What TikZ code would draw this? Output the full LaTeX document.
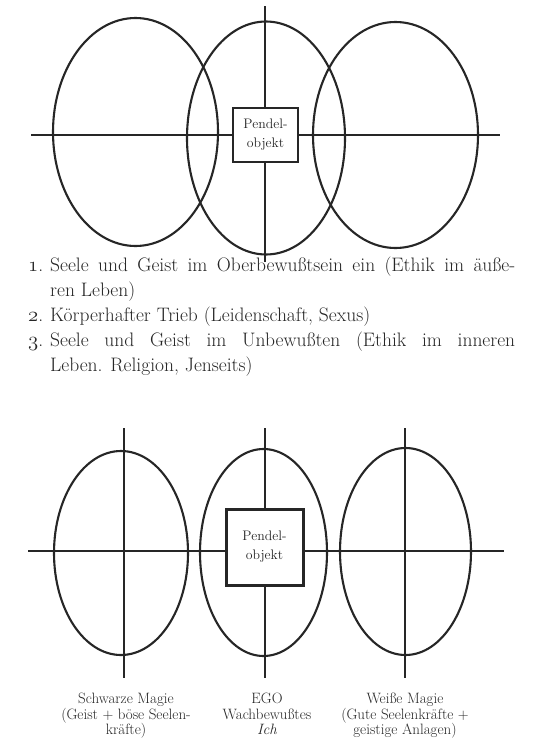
\documentclass[tikz,border=0pt]{standalone}
\usepackage{fontspec}
\usetikzlibrary{shapes.geometric}
\definecolor{ink}{RGB}{38,38,38}
\newcommand{\osnum}[1]{{\fontencoding{OML}\fontfamily{cmm}\fontseries{m}\fontshape{it}\selectfont #1}}
\begin{document}
\begin{tikzpicture}[x=1pt,y=-1pt,
  egg/.style={ellipse, draw=ink, line width=2.1pt, inner sep=0pt},
  axis/.style={draw=ink, line width=1.3pt},
  pbox/.style={draw=ink, line width=1.5pt, fill=white, inner sep=0pt, align=center, font=\fontsize{13.8}{19}\selectfont, text=ink},
  listtxt/.style={anchor=base west, inner sep=0pt, text=ink, font=\fontsize{19.5}{25}\selectfont},
  lab/.style={anchor=base, inner sep=0pt, text=ink, font=\fontsize{15}{15.5}\selectfont}]
\useasboundingbox[fill=white] (0,0) rectangle (544,747);

% ---------- top diagram ----------
\node[egg, minimum width=165pt, minimum height=228pt] (e1) at (135.5,132) {};
\node[egg, minimum width=158pt, minimum height=233pt] (e2) at (266,138) {};
\node[egg, minimum width=165pt, minimum height=226pt] (e3) at (395.5,135) {};
\node[pbox, minimum width=65pt, minimum height=54pt] (box1) at (265.5,135) {Pendel-\\objekt};
\coordinate (h1L) at (31,135);
\coordinate (h1R) at (500,135);
\coordinate (v1T) at (265,6);
\coordinate (v1B) at (265,262);
\draw[axis] (h1L) -- (h1L -| box1.west);
\draw[axis] (h1R -| box1.east) -- (h1R);
\draw[axis] (v1T) -- (v1T |- box1.north);
\draw[axis] (v1B |- box1.south) -- (v1B);

% ---------- list ----------
\node[listtxt] (n1) at (28,271) {\osnum{1}.};
\node[listtxt] (t1) at (50,271) {\makebox[465pt][s]{Seele und Geist im Oberbewußtsein ein (Ethik im äuße-}};
\node[listtxt] (t1b) at (50,296) {ren Leben)};
\node[listtxt] (n2) at (28,321) {\osnum{2}.};
\node[listtxt] (t2) at (50,321) {Körperhafter Trieb (Leidenschaft, Sexus)};
\node[listtxt] (n3) at (28,346) {\osnum{3}.};
\node[listtxt] (t3) at (50,346) {\makebox[465pt][s]{Seele und Geist im Unbewußten (Ethik im inneren}};
\node[listtxt] (t3b) at (50,371) {Leben. Religion, Jenseits)};

% ---------- bottom diagram ----------
\node[egg, minimum width=134pt, minimum height=204pt] (f1) at (121,553) {};
\node[egg, minimum width=127pt, minimum height=207pt] (f2) at (263.5,552.5) {};
\node[egg, minimum width=131pt, minimum height=207pt] (f3) at (405.5,551.5) {};
\node[pbox, line width=3pt, minimum width=77pt, minimum height=76pt] (box2) at (264.5,547) {Pendel-\\objekt};
\coordinate (h2L) at (28,551);
\coordinate (h2R) at (504,551);
\coordinate (vLT) at (124,428);
\coordinate (vLB) at (124,678);
\coordinate (vMT) at (265,428);
\coordinate (vMB) at (265,678);
\coordinate (vRT) at (405,428);
\coordinate (vRB) at (405,678);
\draw[axis] (h2L) -- (h2L -| box2.west);
\draw[axis] (h2R -| box2.east) -- (h2R);
\draw[axis] (vLT) -- (vLB);
\draw[axis] (vRT) -- (vRB);
\draw[axis] (vMT) -- (vMT |- box2.north);
\draw[axis] (vMB |- box2.south) -- (vMB);

% ---------- labels ----------
\node[lab] (a1) at (126,703) {Schwarze Magie};
\node[lab] (a2) at (126,719) {(Geist + böse Seelen-};
\node[lab] (a3) at (126,734) {kräfte)};
\node[lab] (b1) at (267,703) {EGO};
\node[lab] (b2) at (267,719) {Wachbewußtes};
\node[lab] (b3) at (267,734) {\itshape Ich};
\node[lab] (c1) at (405,703) {Weiße Magie};
\node[lab] (c2) at (405,719) {(Gute Seelenkräfte +};
\node[lab] (c3) at (405,734) {geistige Anlagen)};
\end{tikzpicture}
\end{document}
